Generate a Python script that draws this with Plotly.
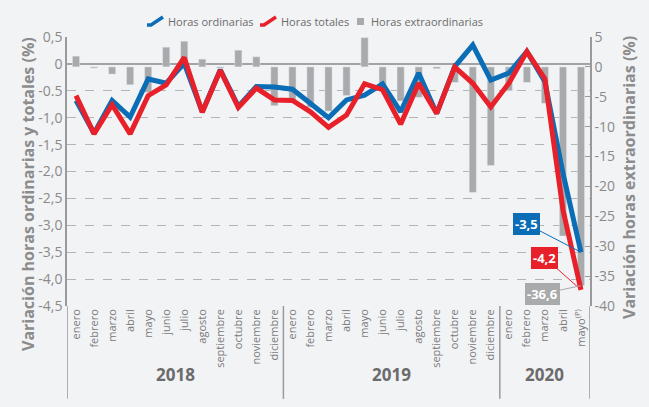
import plotly.graph_objects as go

# ---------------- data ----------------
years = ["2018", "2019", "2020"]
months_per_year = [12, 12, 5]
month_labels = [
    "enero", "febrero", "marzo", "abril", "mayo", "junio", "julio", "agosto",
    "septiembre", "octubre", "noviembre", "diciembre",
    "enero", "febrero", "marzo", "abril", "mayo", "junio", "julio", "agosto",
    "septiembre", "octubre", "noviembre", "diciembre",
    "enero", "febrero", "marzo", "abril", "mayo<sup>(P)</sup>",
]
horas_ordinarias = [-0.68, -1.29, -0.68, -0.99, -0.28, -0.36, 0.01, -0.89, -0.11, -0.79, -0.42, -0.43,
                    -0.47, -0.73, -1.0, -0.67, -0.58, -0.37, -0.89, -0.17, -0.92, -0.05, 0.35, -0.30,
                    -0.17, 0.23, -0.33, -2.03, -3.5]
horas_totales = [-0.59, -1.30, -0.76, -1.30, -0.59, -0.39, 0.12, -0.90, -0.12, -0.81, -0.45, -0.67,
                 -0.68, -0.89, -1.18, -0.95, -0.37, -0.48, -1.12, -0.36, -0.92, -0.06, -0.36, -0.80,
                 -0.36, 0.23, -0.28, -2.71, -4.2]
horas_extra = [1.8, -0.2, -1.2, -3.0, -4.3, 3.3, 4.3, 1.3, -0.2, 2.8, 1.7, -6.5,
               -5.8, -6.8, -7.4, -4.8, 4.9, -3.4, -5.7, -5.1, -0.3, -2.6, -21.0, -16.5,
               -4.0, -2.6, -6.1, -28.3, -36.6]
left_ticks = [0.5, 0, -0.5, -1.0, -1.5, -2.0, -2.5, -3.0, -3.5, -4.0, -4.5]
left_ticktext = ["0,5", "0", "-0.5", "-1,0", "-1,5", "-2,0", "-2,5", "-3,0", "-3,5", "-4,0", "-4,5"]
right_ticks = [5, 0, -5, -10, -15, -20, -25, -30, -35, -40]
right_ticktext = ["5", "0", "-5", "-10", "-15", "-20", "-25", "-30", "-35", "-40"]
series_names = ["Horas ordinarias", "Horas totales", "Horas extraordinarias"]

BLUE = "#0a6db5"
RED = "#e8202a"
GREY = "#a8aaac"
BG = "#f2f3f5"
OPEN = "Open Sans, sans-serif"

# layout geometry (pixels)
W, H = 649, 407
ML, MR, MT, MB = 67, 59, 37, 101
PW, PH = W - ML - MR, H - MT - MB


def px(xp):
    return (xp - ML) / PW


def py(yp):
    return (H - MB - yp) / PH


x = list(range(len(month_labels)))

fig = go.Figure()
fig.add_trace(go.Bar(x=x, y=horas_extra, name=series_names[2], marker_color=GREY,
                     width=0.4, yaxis="y"))
fig.add_trace(go.Scatter(x=x, y=horas_ordinarias, name=series_names[0], mode="lines",
                         line=dict(color=BLUE, width=5), yaxis="y2"))
fig.add_trace(go.Scatter(x=x, y=horas_totales, name=series_names[1], mode="lines",
                         line=dict(color=RED, width=5), yaxis="y2"))

shapes = []
annotations = []

# year separators and labels
start = 0
bounds = [-0.5]
for yr, n in zip(years, months_per_year):
    end = start + n
    bounds.append(end - 0.5)
    annotations.append(dict(x=(start + end - 1) / 2, xref="x", y=-0.305, yref="paper",
                            text="<b>%s</b>" % yr, showarrow=False,
                            font=dict(family=OPEN, size=17, color="#6b6b6b")))
    start = end
for b in bounds:
    shapes.append(dict(type="line", xref="x", x0=b, x1=b, yref="paper", y0=0, y1=-0.345,
                       line=dict(color="#9a9a9a", width=1.5)))

# custom legend (slanted line icons as in the original)
leg_font = dict(family=OPEN, size=11, color="#6b6b6b")
for (x0, color) in [(147, BLUE), (260, RED)]:
    shapes.append(dict(type="path", xref="paper", yref="paper",
                       path="M %f,%f L %f,%f L %f,%f" % (px(x0), py(25), px(x0 + 4), py(25),
                                                         px(x0 + 16), py(17)),
                       line=dict(color=color, width=3.5)))
shapes.append(dict(type="rect", xref="paper", yref="paper", x0=px(357), x1=px(364),
                   y0=py(25), y1=py(18), fillcolor=GREY, line=dict(width=0)))
for name, tx in zip(series_names, [166, 279, 369]):
    annotations.append(dict(x=px(tx), y=py(21), xref="paper", yref="paper", xanchor="left",
                            yanchor="middle", text=name, showarrow=False, font=leg_font))

# axis titles
annotations.append(dict(x=px(15), y=py(194), xref="paper", yref="paper", textangle=-90,
                        text="<b>Variación horas ordinarias y totales (%)</b>", showarrow=False,
                        font=dict(family=OPEN, size=16, color="#8c8c8c")))
annotations.append(dict(x=px(642), y=py(178), xref="paper", yref="paper", textangle=-90,
                        text="<b>Variación horas extraordinarias (%)</b>", showarrow=False,
                        font=dict(family=OPEN, size=16, color="#8c8c8c")))

# data labels for last month
last = len(month_labels) - 1


def fmt(v):
    return ("%.1f" % v).replace(".", ",")


for vals, yref, color, ax, ay in [(horas_ordinarias, "y2", BLUE, -54, -28),
                                  (horas_totales, "y2", RED, -36, -32),
                                  (horas_extra, "y", GREY, -38, 8)]:
    annotations.append(dict(x=last, y=vals[last], xref="x", yref=yref,
                            text="<b>%s</b>" % fmt(vals[last]), showarrow=True,
                            arrowhead=0, arrowwidth=1, arrowcolor=color, ax=ax, ay=ay,
                            bgcolor=color, bordercolor=color, borderpad=1,
                            font=dict(family=OPEN, size=13, color="white")))

fig.update_layout(
    width=W, height=H,
    margin=dict(l=ML, r=MR, t=MT, b=MB, autoexpand=False),
    paper_bgcolor=BG, plot_bgcolor=BG,
    showlegend=False,
    xaxis=dict(range=[-0.5, len(month_labels) - 0.5], tickmode="array", tickvals=x,
               ticktext=month_labels, tickangle=-90, showgrid=False, zeroline=False,
               showline=False, ticks="", automargin=False,
               tickfont=dict(family=OPEN, size=11, color="#7a7a7a")),
    yaxis=dict(side="right", range=[-40, 5], tickmode="array", tickvals=right_ticks,
               ticktext=right_ticktext, showgrid=False, zeroline=False, showline=True,
               linecolor="#9a9a9a", linewidth=1.5, ticks="inside", ticklen=5,
               tickcolor="#9a9a9a", automargin=False,
               tickfont=dict(family=OPEN, size=14, color="#8a8a8a")),
    yaxis2=dict(side="left", overlaying="y", range=[-4.5, 0.5], tickmode="array",
                tickvals=left_ticks, ticktext=left_ticktext, showgrid=True,
                gridcolor="#b4b4b4", griddash="dash", gridwidth=1,
                zeroline=True, zerolinecolor="#a3a3a3", zerolinewidth=2,
                showline=True, linecolor="#9a9a9a", linewidth=1.5, ticks="",
                automargin=False,
                tickfont=dict(family=OPEN, size=14, color="#8a8a8a")),
    shapes=shapes,
    annotations=annotations,
)

fig.write_html("out.html", config={"displayModeBar": False},
               post_script="document.body.style.margin='0px';"
                           "document.body.style.background='#f2f3f5';")
